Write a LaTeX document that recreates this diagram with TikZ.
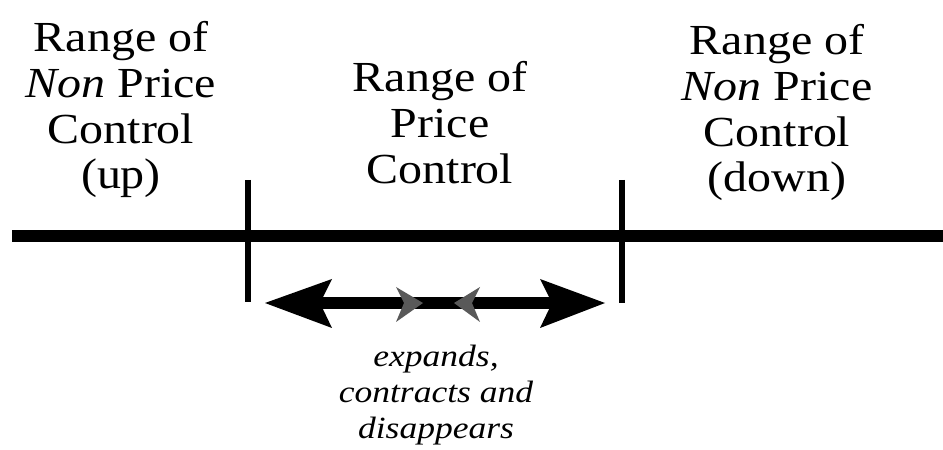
\documentclass[tikz,border=0pt]{standalone}
\usepackage{fontspec}
\setmainfont{Liberation Serif}
\newcommand{\wide}{\addfontfeature{FakeStretch=1.12}}
\newcommand{\itwide}[1]{{\itshape\addfontfeature{FakeStretch=1.12}#1}}
\begin{document}
\begin{tikzpicture}[x=1bp,y=-1bp,
  lbl/.style={align=center,inner sep=0pt,anchor=north,font=\fontsize{43}{46}\selectfont\wide},
  small/.style={align=center,inner sep=0pt,anchor=north,font=\fontsize{31}{36}\selectfont\itshape\addfontfeature{FakeStretch=1.15}},
  tick/.style={line width=6bp},
  axis/.style={line width=12bp}]
\useasboundingbox (0,0) rectangle (943,450);
% main line
\coordinate (L) at (12,236);
\coordinate (R) at (943,236);
\draw[axis] (L) -- (R);
% ticks
\coordinate (t1a) at (248,180); \coordinate (t1b) at (248,302);
\coordinate (t2a) at (622,180); \coordinate (t2b) at (622,303);
\draw[tick] (t1a) -- (t1b);
\draw[tick] (t2a) -- (t2b);
% double arrow shaft
\coordinate (a1) at (300,303);
\coordinate (a2) at (575,303);
\draw[line width=12bp] (a1) -- (a2);
% big heads
\fill (265,303) -- (332,279) -- (320,303) -- (332,328) -- cycle;
\fill (605,303) -- (540,279) -- (552,303) -- (540,328) -- cycle;
% small inner heads (grey)
\fill[black!65] (423,303) -- (396,287) -- (404,303) -- (396,322) -- cycle;
\fill[black!65] (454,303) -- (480,287) -- (472,303) -- (480,322) -- cycle;
% labels
\node[lbl] (left) at (121,21) {Range of\\\itwide{Non} Price\\Control\\(up)};
\node[lbl] (mid) at (440,61) {Range of\\Price\\Control};
\node[lbl] (right) at (777,24) {Range of\\\itwide{Non} Price\\Control\\(down)};
\node[small] (note) at (436,345) {expands,\\contracts and\\disappears};
\end{tikzpicture}
\end{document}
